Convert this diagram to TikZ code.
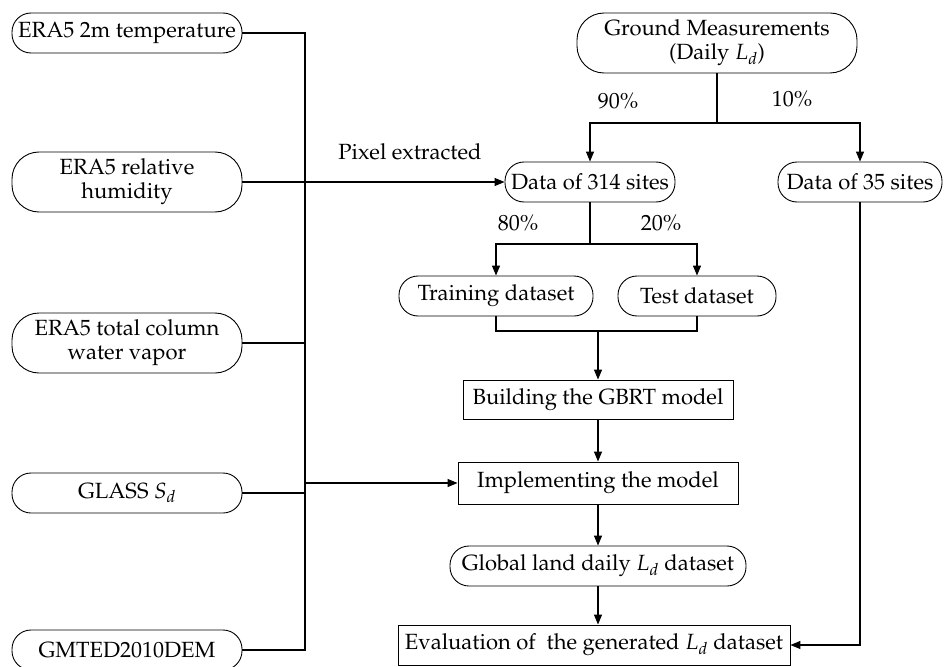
\documentclass[tikz,border=0pt]{standalone}
\usepackage[T1]{fontenc}
\usepackage{mathpazo}
\usetikzlibrary{arrows.meta}
\begin{document}
\begin{tikzpicture}[x=1pt,y=-1pt,
  font=\fontsize{22}{24}\selectfont,
  conn/.style={line width=1.2pt},
  arr/.style={line width=1.2pt,-{Triangle[length=10pt,width=8pt]}},
  pill/.style={draw,line width=0.9pt,rounded corners=19pt,minimum height=40pt,inner sep=0pt,align=center},
  pilltwo/.style={draw,line width=0.9pt,rounded corners=27pt,minimum height=60pt,inner sep=0pt,align=center},
  boxr/.style={draw,line width=0.9pt,inner sep=0pt,align=center},
  lbl/.style={inner sep=0pt}]
\useasboundingbox (0,0) rectangle (944,666);

% left inputs
\node[pill,minimum width=230pt] (t2m) at (127,33) {ERA5 2m temperature};
\node[pilltwo,minimum width=230pt] (rh) at (127,182) {ERA5 relative\\humidity};
\node[pilltwo,minimum width=230pt] (tcwv) at (127,343) {ERA5 total column\\water vapor};
\node[pill,minimum width=230pt] (glass) at (127,493) {GLASS $S_d$};
\node[pill,minimum width=230pt] (dem) at (127,650) {GMTED2010DEM};

% right column
\node[pilltwo,minimum width=280pt] (gm) at (717,43) {Ground Measurements\\(Daily $L_d$)};
\node[pill,minimum width=170pt] (d314) at (590,182) {Data of 314 sites};
\node[pill,minimum width=164pt] (d35) at (860,182) {Data of 35 sites};
\node[pill,minimum width=194pt] (train) at (496,296) {Training dataset};
\node[pill,minimum width=158pt] (test) at (697,296) {Test dataset};
\node[boxr,minimum width=270pt,minimum height=39pt] (build) at (598,399.5) {Building the GBRT model};
\node[boxr,minimum width=280pt,minimum height=42pt] (impl) at (598,483) {Implementing the model};
\node[pill,minimum width=296pt] (glob) at (598,566) {Global land daily $L_d$ dataset};
\node[boxr,minimum width=392pt,minimum height=40pt] (eval) at (594,645) {Evaluation of\ \ the generated $L_d$ dataset};

% labels
\node[lbl] (p90) at (618,101) {90\%};
\node[lbl] (p10) at (792,99) {10\%};
\node[lbl] (pix) at (410,152) {Pixel extracted};
\node[lbl] (p80) at (518,223) {80\%};
\node[lbl] (p20) at (661,223) {20\%};

% bus
\coordinate (btop) at (305,33);
\coordinate (bbot) at (305,650);
\coordinate (bimp) at (305,483);
\draw[conn] (t2m.east) -- (btop) -- (bbot) -- (dem.east);
\draw[conn] (tcwv.east) -- (tcwv.east -| btop);
\draw[conn] (glass.east) -- (glass.east -| btop);
\draw[arr] (rh.east) -- (d314.west);
\draw[arr] (bimp) -- (impl.west);

% splits
\coordinate (gsplit) at (717,123);
\draw[conn] (gm.south) -- (gsplit);
\draw[arr] (gsplit) -| (d314.north);
\draw[arr] (gsplit) -| (d35.north);

\coordinate (dsplit) at (590,244);
\draw[conn] (d314.south) -- (dsplit);
\draw[arr] (dsplit) -| (train.north);
\draw[arr] (dsplit) -| (test.north);

\coordinate (merge) at (598,331);
\draw[conn] (train.south) |- (merge) -| (test.south);
\draw[arr] (merge) -- (build.north);
\draw[arr] (build.south) -- (impl.north);
\draw[arr] (impl.south) -- (glob.north);
\draw[arr] (glob.south) -- (glob.south |- eval.north);
\draw[arr] (d35.south) |- (eval.east);
\end{tikzpicture}
\end{document}
